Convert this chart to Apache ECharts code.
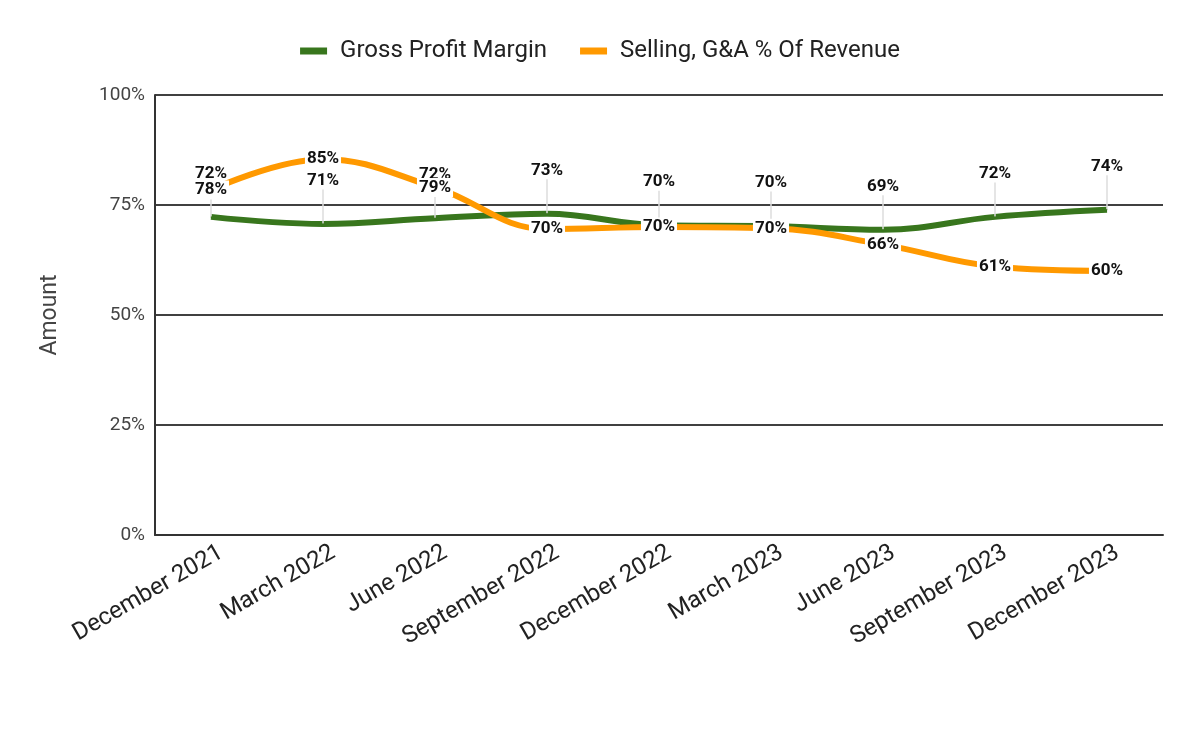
<!DOCTYPE html>
<html><head><meta charset="utf-8">
<script src="https://cdn.jsdelivr.net/npm/echarts@6/dist/echarts.min.js"></script>
<style>html,body{margin:0;padding:0;background:#fff}#c{width:1200px;height:742px}</style>
</head><body><div id="c"></div>
<script>
const categories = ['December 2021','March 2022','June 2022','September 2022','December 2022','March 2023','June 2023','September 2023','December 2023'];
const grossProfitMargin = [72.3, 70.7, 72, 73, 70.4, 70.2, 69.4, 72.3, 73.9];
const sgaPercent = [78.4, 85.4, 79, 69.5, 70, 69.7, 66, 61, 60];
const yTicks = [0, 25, 50, 75, 100];

const chart = echarts.init(document.getElementById('c'));
chart.setOption({
  animation: false,
  textStyle: { fontFamily: 'Roboto' },
  legend: {
    top: 34, left: 'center',
    itemWidth: 27, itemHeight: 7, itemGap: 33,
    icon: 'rect',
    textStyle: { fontSize: 24, color: '#222', fontFamily: 'Roboto', padding: [0, 0, 0, 8] },
    data: ['Gross Profit Margin', 'Selling, G&A % Of Revenue']
  },
  grid: { left: 155, right: 37, top: 95, bottom: 207 },
  xAxis: {
    type: 'category', data: categories, boundaryGap: true,
    axisLine: { lineStyle: { color: '#333', width: 2 } },
    axisTick: { show: false },
    axisLabel: { rotate: 30, fontSize: 24, color: '#222', margin: 22, interval: 0, fontFamily: 'Roboto', padding: [0, -12, 0, 0] }
  },
  yAxis: {
    type: 'value', min: 0, max: 100, interval: 25,
    name: 'Amount', nameLocation: 'middle', nameGap: 93, nameRotate: 90,
    nameTextStyle: { fontSize: 23, color: '#444', fontFamily: 'Roboto' },
    axisLine: { show: true, lineStyle: { color: '#333', width: 2 } },
    axisTick: { show: false },
    axisLabel: { fontSize: 19, color: '#444', margin: 10, fontFamily: 'Roboto', formatter: v => yTicks.includes(v) ? v + '%' : '' },
    splitLine: { lineStyle: { color: '#000', width: 1.5 } }
  },
  series: [
    {
      name: 'Gross Profit Margin', type: 'line', data: grossProfitMargin, smooth: 0.4,
      symbol: 'circle', showSymbol: true, symbolSize: 1,
      itemStyle: { color: '#38761d' },
      lineStyle: { color: '#38761d', width: 6 },
      label: { show: true, position: 'top', distance: 0, fontSize: 17, fontWeight: 'bold', color: '#111', fontFamily: 'Roboto',
        formatter: p => Math.round(p.value) + '%' },
      labelLayout: { dy: -34 },
      labelLine: { show: true, lineStyle: { color: '#ddd', width: 1.5 } },
      z: 2
    },
    {
      name: 'Selling, G&A % Of Revenue', type: 'line', data: sgaPercent, smooth: 0.4,
      symbol: 'circle', symbolSize: 1,
      itemStyle: { color: '#ff9900' },
      lineStyle: { color: '#ff9900', width: 6 },
      label: { show: true, position: 'inside', fontSize: 17, fontWeight: 'bold', color: '#111', fontFamily: 'Roboto',
        backgroundColor: '#fff', padding: [1, 2],
        formatter: p => Math.round(p.value) + '%' },
      z: 3
    }
  ]
});
</script></body></html>
